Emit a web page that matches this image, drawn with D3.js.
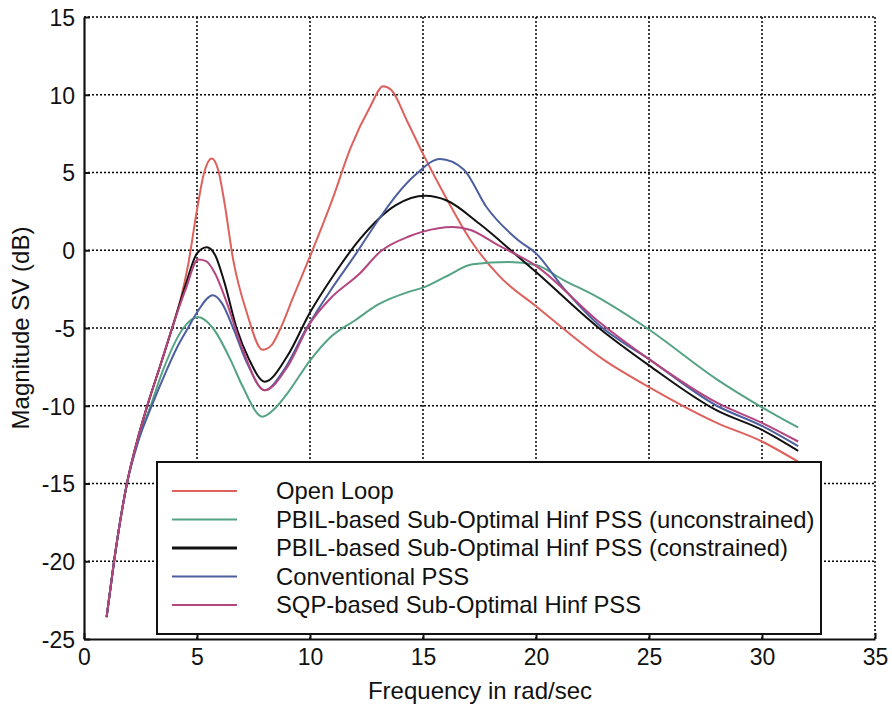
<!DOCTYPE html>
<html>
<head>
<meta charset="utf-8">
<script src="https://cdn.jsdelivr.net/npm/d3@7"></script>
<style>
  body { margin: 0; background: #fff; }
  text { font-family: Arial, "Liberation Sans", sans-serif; fill: #111; }
</style>
</head>
<body>
<div id="vis"></div>
<script>
// values (frequency in rad/sec, magnitude in dB)
const openLoopFreq = [1, 1.33, 1.9, 2.4, 2.8, 3.4, 3.9, 4.3, 4.6, 5, 5.3, 5.65, 5.95, 6.2, 6.6, 7.2, 7.9, 8.3, 8.67, 9.26, 10, 11, 11.8, 12.65, 13.24, 13.6, 14.3, 15, 15.9, 17.1, 18.4, 20, 23, 25, 28, 30, 31.6]
const openLoopMag  = [-23.6, -20, -15, -12, -10, -7.3, -5, -3.0, -1.0, 2.6, 4.9, 5.9, 5.1, 3.2, -0.6, -4.0, -6.4, -6.1, -5.1, -3.0, -0.4, 3.3, 6.6, 9.2, 10.55, 10.3, 8.3, 6.2, 3.7, 0.66, -1.7, -3.6, -7.05, -8.8, -11.1, -12.3, -13.6]

const unconFreq = [1, 1.33, 1.9, 2.4, 2.95, 3.5, 4.4, 5.05, 5.7, 6.5, 7.0, 7.9, 8.5, 9, 10, 10.9, 12, 13, 14.4, 15, 16, 17.2, 18.8, 20, 21.2, 22.7, 24.9, 28, 30, 31.6]
const unconMag  = [-23.6, -20, -15, -12.2, -10, -7.7, -5, -4.3, -5, -7.1, -8.7, -10.7, -10.1, -9.2, -7.1, -5.6, -4.5, -3.5, -2.66, -2.4, -1.7, -0.9, -0.76, -0.95, -1.9, -3.0, -5.0, -8.3, -10.1, -11.4]

const conFreq = [1, 1.33, 1.9, 2.4, 2.8, 3.4, 3.9, 4.5, 5.0, 5.43, 5.8, 6.2, 6.75, 7.3, 8.0, 9, 10, 11, 12.2, 13.8, 15.1, 16.05, 17.5, 19.2, 20, 22.7, 25, 28, 30, 31.6]
const conMag  = [-23.6, -20, -15, -12, -10, -7.3, -5, -2.2, -0.2, 0.2, -0.3, -2.0, -5.0, -7.0, -8.45, -6.8, -4.0, -1.7, 0.7, 2.9, 3.5, 3.2, 1.7, -0.4, -1.4, -4.9, -7.4, -10.3, -11.55, -12.9]

const convFreq = [1, 1.33, 1.9, 2.4, 3.0, 3.6, 4.1, 4.6, 5.0, 5.7, 6.1, 6.6, 7.2, 8.0, 8.8, 9.85, 10.9, 12, 13, 13.8, 14.7, 15.75, 16.8, 17.8, 19.2, 20, 21.2, 22.7, 25, 28, 30, 31.6]
const convMag  = [-23.6, -20, -15, -12.3, -10, -7.9, -6.3, -5, -4.0, -2.9, -3.4, -5.0, -7.2, -9.0, -7.8, -5.0, -2.6, -0.3, 1.9, 3.5, 4.9, 5.87, 5.2, 2.8, 0.66, -0.2, -2.4, -4.7, -7.0, -10.0, -11.3, -12.6]

const sqpFreq = [1, 1.33, 1.9, 2.4, 2.8, 3.4, 3.9, 4.5, 5.05, 5.4, 5.8, 6.3, 7.0, 8.0, 9, 10, 10.9, 12.2, 13.1, 14.4, 15, 16.3, 17.1, 18.3, 20, 22.7, 25, 28, 30, 31.6]
const sqpMag  = [-23.6, -20, -15, -12, -10, -7.3, -5, -2.5, -0.6, -0.7, -1.5, -3.3, -6.3, -9.0, -7.5, -4.7, -3.1, -1.5, -0.1, 0.9, 1.2, 1.5, 1.3, 0.34, -1.0, -4.5, -7.0, -9.8, -11.1, -12.3]

const seriesNames = [
  'Open Loop',
  'PBIL-based Sub-Optimal Hinf PSS (unconstrained)',
  'PBIL-based Sub-Optimal Hinf PSS (constrained)',
  'Conventional PSS',
  'SQP-based Sub-Optimal Hinf PSS'
]
const seriesColors = ['#dd625e', '#55a385', '#111111', '#4c5f9e', '#b5457e']

const xTicks = [0, 5, 10, 15, 20, 25, 30, 35]
const yTicks = [-25, -20, -15, -10, -5, 0, 5, 10, 15]

const series = [
  [openLoopFreq, openLoopMag],
  [unconFreq, unconMag],
  [conFreq, conMag],
  [convFreq, convMag],
  [sqpFreq, sqpMag]
].map(([f, m], i) => ({
  name: seriesNames[i],
  color: seriesColors[i],
  pts: f.map((v, j) => [v, m[j]])
}))

const W = 892, H = 706
const margin = { left: 84, top: 17, right: 17, bottom: 67 }

const svg = d3.select('#vis').append('svg')
  .attr('width', W)
  .attr('height', H)

const x = d3.scaleLinear().domain([0, 35]).range([margin.left, W - margin.right])
const y = d3.scaleLinear().domain([-25, 15]).range([H - margin.bottom, margin.top])

// dotted grid
const grid = svg.append('g').attr('class', 'grid')
  .attr('stroke', '#000')
  .attr('stroke-width', 1.5)
  .attr('stroke-dasharray', '2,2')
grid.selectAll('.gx').data(xTicks.slice(1))
  .enter().append('line')
  .attr('x1', d => x(d)).attr('x2', d => x(d))
  .attr('y1', y(-25)).attr('y2', y(15))
grid.selectAll('.gy').data(yTicks.slice(1))
  .enter().append('line')
  .attr('x1', x(0)).attr('x2', x(35))
  .attr('y1', d => y(d)).attr('y2', d => y(d))

// curves
const line = d3.line()
  .x(d => x(d[0]))
  .y(d => y(d[1]))
  .curve(d3.curveMonotoneX)

svg.append('g').selectAll('path')
  .data(series)
  .enter().append('path')
  .attr('fill', 'none')
  .attr('stroke', d => d.color)
  .attr('stroke-width', 2)
  .attr('d', d => line(d.pts))

// axes (ticks point inwards, like matlab)
const xAxis = d3.axisBottom(x).tickValues(xTicks).tickSizeInner(-6).tickSizeOuter(0).tickPadding(10)
const yAxis = d3.axisLeft(y).tickValues(yTicks).tickSizeInner(-6).tickSizeOuter(0).tickPadding(9)

const gx = svg.append('g')
  .attr('transform', `translate(0,${y(-25)})`)
  .call(xAxis)
const gy = svg.append('g')
  .attr('transform', `translate(${x(0)},0)`)
  .call(yAxis)

;[gx, gy].forEach(g => {
  g.select('.domain').attr('stroke', '#111').attr('stroke-width', 2.2)
  g.selectAll('.tick line').attr('stroke', '#111').attr('stroke-width', 2)
  g.selectAll('.tick text')
    .style('font-family', 'Arial, "Liberation Sans", sans-serif')
    .style('font-size', '23px')
    .attr('fill', '#111')
})
gy.selectAll('.tick text').attr('dy', '0.36em')
  .text(d => d < 0 ? '-' + Math.abs(d) : d)

// axis titles
svg.append('text')
  .attr('x', 480)
  .attr('y', 699)
  .attr('text-anchor', 'middle')
  .style('font-size', '24px')
  .text('Frequency in rad/sec')

svg.append('text')
  .attr('transform', `translate(29,${(y(-25) + y(15)) / 2}) rotate(-90)`)
  .attr('text-anchor', 'middle')
  .style('font-size', '24px')
  .text('Magnitude SV (dB)')

// legend
const legend = svg.append('g').attr('class', 'legend')
legend.append('rect')
  .attr('x', 157).attr('y', 462)
  .attr('width', 664).attr('height', 172)
  .attr('fill', '#fff')
  .attr('stroke', '#111')
  .attr('stroke-width', 2)

const rows = legend.selectAll('.row')
  .data(series)
  .enter().append('g')
  .attr('transform', (d, i) => `translate(0,${491 + i * 28.5})`)

rows.append('line')
  .attr('x1', 172).attr('x2', 237)
  .attr('stroke', d => d.color)
  .attr('stroke-width', d => d.color === '#111111' ? 3 : 2)

rows.append('text')
  .attr('x', 276)
  .attr('dy', '0.35em')
  .style('font-size', '23.8px')
  .text(d => d.name)
</script>
</body>
</html>
